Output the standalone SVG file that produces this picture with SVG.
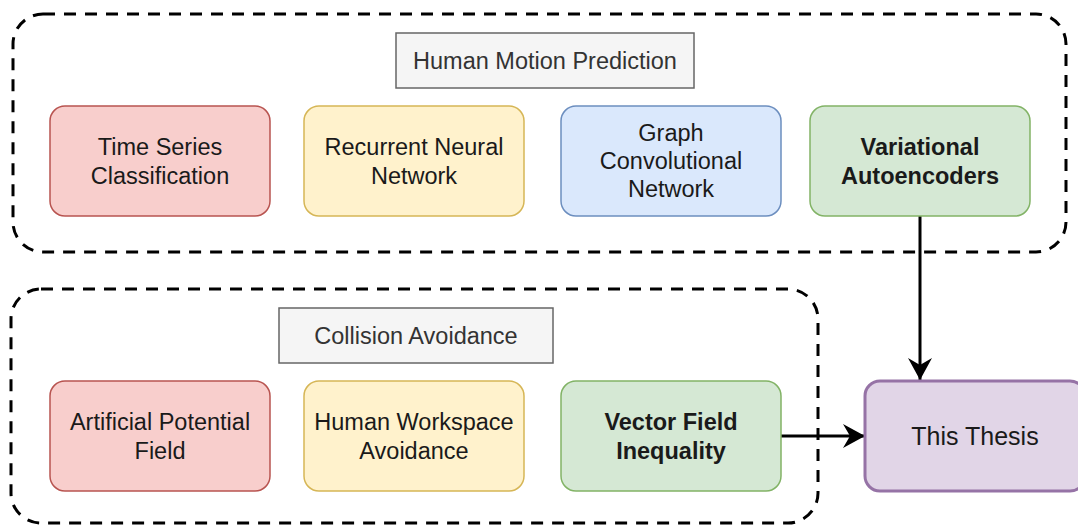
<svg xmlns="http://www.w3.org/2000/svg" width="1078" height="527" viewBox="0 0 1078 527">
  <style>
    .group { fill: none; stroke: #000; stroke-width: 3; stroke-dasharray: 12 9; }
    .title rect { fill: #f5f5f5; stroke: #666; stroke-width: 1.5; }
    .title text { fill: #333; }
    text { font-family: "Liberation Sans", Arial, sans-serif; font-size: 23.5px; text-anchor: middle; fill: #1a1a1a; }
    .b { font-weight: bold; }
    .red rect { fill: #f8cecc; stroke: #b85450; stroke-width: 1.5; }
    .yellow rect { fill: #fff2cc; stroke: #d6b656; stroke-width: 1.5; }
    .blue rect { fill: #dae8fc; stroke: #6c8ebf; stroke-width: 1.5; }
    .green rect { fill: #d5e8d4; stroke: #82b366; stroke-width: 1.5; }
    .purple rect { fill: #e1d5e7; stroke: #9673a6; stroke-width: 3; }
    .edge { fill: none; stroke: #000; stroke-width: 3; }
  </style>
  <defs>
    <marker id="arrow" viewBox="0 0 24 24" refX="22" refY="12" markerUnits="userSpaceOnUse" markerWidth="24" markerHeight="24" orient="auto">
      <path d="M0,0 L22,12 L0,24 L7,12 Z" fill="#000"/>
    </marker>
  </defs>
  <rect width="1078" height="527" fill="#fff"/>

  <!-- dashed grouping frames -->
  <g id="group-motion">
    <rect class="group" x="13" y="14" width="1053" height="238" rx="30"/>
    <g class="title">
      <rect x="396" y="33" width="298" height="55"/>
      <text x="545" y="69">Human Motion Prediction</text>
    </g>
  </g>
  <g id="group-collision">
    <rect class="group" x="11" y="289" width="807" height="234" rx="30"/>
    <g class="title">
      <rect x="279" y="308" width="274" height="55"/>
      <text x="416" y="344">Collision Avoidance</text>
    </g>
  </g>

  <!-- connectors -->
  <g id="connectors">
    <path class="edge" d="M920,216 L920,380" marker-end="url(#arrow)"/>
    <path class="edge" d="M781,436 L865,436" marker-end="url(#arrow)"/>
  </g>

  <!-- top row -->
  <g id="time-series" class="red">
    <rect x="50" y="106" width="220" height="110" rx="15"/>
    <text x="160" y="155">Time Series</text>
    <text x="160" y="184">Classification</text>
  </g>
  <g id="rnn" class="yellow">
    <rect x="304" y="106" width="220" height="110" rx="15"/>
    <text x="414" y="155">Recurrent Neural</text>
    <text x="414" y="184">Network</text>
  </g>
  <g id="gcn" class="blue">
    <rect x="561" y="106" width="220" height="110" rx="15"/>
    <text x="671" y="141">Graph</text>
    <text x="671" y="169">Convolutional</text>
    <text x="671" y="197">Network</text>
  </g>
  <g id="vae" class="green">
    <rect x="810" y="106" width="220" height="110" rx="15"/>
    <text class="b" x="920" y="155">Variational</text>
    <text class="b" x="920" y="184">Autoencoders</text>
  </g>

  <!-- bottom row -->
  <g id="apf" class="red">
    <rect x="50" y="381" width="220" height="110" rx="15"/>
    <text x="160" y="430">Artificial Potential</text>
    <text x="160" y="459">Field</text>
  </g>
  <g id="hwa" class="yellow">
    <rect x="304" y="381" width="220" height="110" rx="15"/>
    <text x="414" y="430">Human Workspace</text>
    <text x="414" y="459">Avoidance</text>
  </g>
  <g id="vfi" class="green">
    <rect x="561" y="381" width="220" height="110" rx="15"/>
    <text class="b" x="671" y="430">Vector Field</text>
    <text class="b" x="671" y="459">Inequality</text>
  </g>
  <g id="thesis" class="purple">
    <rect x="865" y="381" width="220" height="110" rx="15"/>
    <text x="975" y="445" style="font-size:25px">This Thesis</text>
  </g>
</svg>
